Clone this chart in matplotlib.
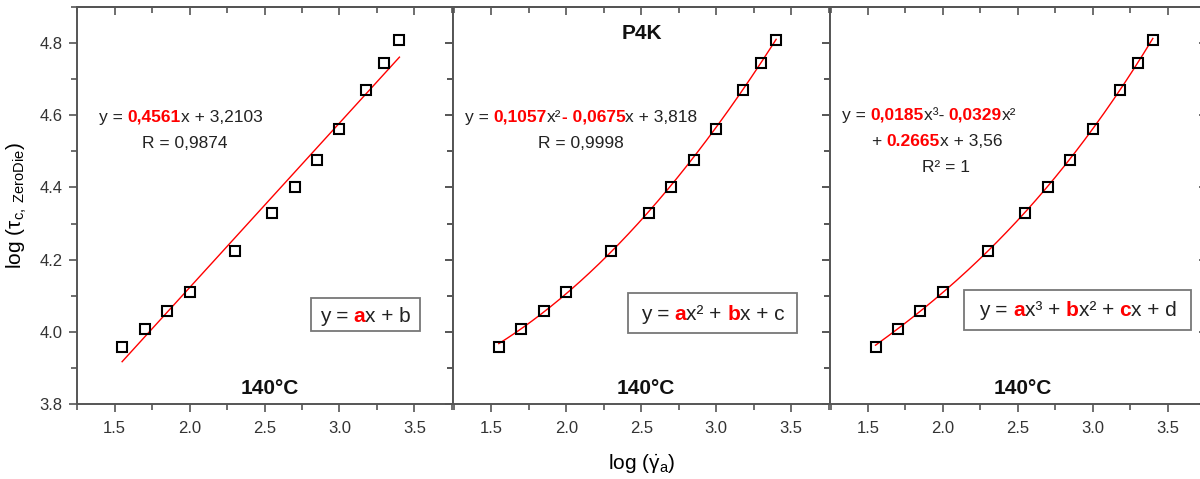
import numpy as np
import matplotlib
matplotlib.use('Agg')
import matplotlib.pyplot as plt
from matplotlib import transforms
from matplotlib.patches import Rectangle
from matplotlib.ticker import MultipleLocator

plt.rcParams['font.family'] = ['Liberation Sans', 'DejaVu Sans']
plt.rcParams['mathtext.fontset'] = 'custom'
plt.rcParams['mathtext.rm'] = 'Liberation Sans'
plt.rcParams['mathtext.it'] = 'Liberation Sans:italic'

# データ (log shear rate vs log tau)
x_log_rate = [1.55, 1.70, 1.85, 2.00, 2.30, 2.55, 2.70, 2.85, 3.00, 3.18, 3.30, 3.40]
y_log_tau = [3.959, 4.007, 4.058, 4.109, 4.223, 4.328, 4.402, 4.477, 4.561, 4.671, 4.745, 4.809]

# フィット係数
lin_coef = [0.4561, 3.2103]
quad_coef = [0.1057, -0.0675, 3.818]
cubic_coef = [0.0185, -0.0329, 0.2665, 3.56]
fit_range = [1.55, 3.40]

temp_label = '140°C'
sample_name = 'P4K'

RED = '#ff0000'
BLK = '#222222'
GRAY = '#555555'

eq_lines = [
    [[('y = ', BLK, False), ('0,4561', RED, True), ('x + 3,2103', BLK, False)],
     [('R = 0,9874', BLK, False)]],
    [[('y = ', BLK, False), ('0,1057', RED, True), ('x²', BLK, False), ('- 0,0675', RED, True),
      ('x + 3,818', BLK, False)],
     [('R = 0,9998', BLK, False)]],
    [[('y = ', BLK, False), ('0,0185', RED, True), ('x³- ', BLK, False), ('0,0329', RED, True),
      ('x²', BLK, False)],
     [('+ ', BLK, False), ('0.2665', RED, True), ('x + 3,56', BLK, False)],
     [('R² = 1', BLK, False)]],
]
model_lines = [
    [('y = ', BLK, False), ('a', RED, True), ('x + b', BLK, False)],
    [('y = ', BLK, False), ('a', RED, True), ('x² + ', BLK, False), ('b', RED, True), ('x + c', BLK, False)],
    [('y = ', BLK, False), ('a', RED, True), ('x³ + ', BLK, False), ('b', RED, True), ('x² + ', BLK, False),
     ('c', RED, True), ('x + d', BLK, False)],
]
coefs = [lin_coef, quad_coef, cubic_coef]

# レイアウト
eq_pos = [
    [(1.94, 4.582), (1.97, 4.508)],
    [(2.10, 4.582), (2.10, 4.509)],
    [(1.907, 4.587), (1.96, 4.516), (2.02, 4.443)],
]
box_pos = [(3.173, 4.027), (2.977, 4.034), (2.90, 4.045)]
box_pad = [(9, 24, 9), (12.5, 27, 13), (14.5, 26, 14)]

fig = plt.figure(figsize=(12, 4.79), dpi=100)
renderer = fig.canvas.get_renderer()


def text_width(s, size, weight):
    t1 = fig.text(0, 0, '|' + s + '|', fontsize=size, fontweight=weight)
    t2 = fig.text(0, 0, '||', fontsize=size, fontweight=weight)
    w = t1.get_window_extent(renderer).width - t2.get_window_extent(renderer).width
    t1.remove()
    t2.remove()
    return w


def color_text(ax, x, y, parts, size):
    widths = [text_width(s, size, 'bold' if b else 'normal') for s, c, b in parts]
    total = sum(widths)
    dx = -total / 2
    for (s, c, b), w in zip(parts, widths):
        tr = transforms.offset_copy(ax.transData, fig=fig, x=dx, y=0, units='dots')
        ax.text(x, y, s, transform=tr, ha='left', va='baseline', fontsize=size,
                color=c, fontweight='bold' if b else 'normal', zorder=6)
        dx += w
    return total


x0, w0 = 76.7 / 1200, 376.7 / 1200
b0, h0 = 75 / 479, 397 / 479
axes = []
for i in range(3):
    ax = fig.add_axes([x0 + i * w0, b0, w0, h0])
    axes.append(ax)
    ax.set_xlim(1.247, 3.76)
    ax.set_ylim(3.8, 4.9)

    xf = np.linspace(fit_range[0], fit_range[1], 200)
    ax.plot(xf, np.polyval(coefs[i], xf), color=RED, lw=1.0, zorder=3)
    ax.plot(x_log_rate, y_log_tau, 's', ms=6.5, mfc='none', mec='black', mew=1.5, zorder=4)

    for sp in ax.spines.values():
        sp.set_color(GRAY)
        sp.set_linewidth(1.4)
    ax.xaxis.set_major_locator(MultipleLocator(0.5))
    ax.xaxis.set_minor_locator(MultipleLocator(0.25))
    ax.yaxis.set_major_locator(MultipleLocator(0.2))
    ax.yaxis.set_minor_locator(MultipleLocator(0.1))
    ax.tick_params(which='both', direction='out', color=GRAY, width=1.2, labelcolor='#333333',
                   labelsize=12)
    ax.tick_params(axis='x', pad=6)
    ax.tick_params(axis='y', pad=4)
    ax.tick_params(which='major', length=6)
    ax.tick_params(which='minor', length=4)
    if i > 0:
        ax.tick_params(axis='y', labelleft=False)

    # 上と右は内向き
    sx = ax.secondary_xaxis('top')
    sx.xaxis.set_major_locator(MultipleLocator(0.5))
    sx.xaxis.set_minor_locator(MultipleLocator(0.25))
    sx.tick_params(which='both', direction='in', color=GRAY, width=1.2, labeltop=False)
    sx.tick_params(which='major', length=6)
    sx.tick_params(which='minor', length=4)
    sx.spines['top'].set_color(GRAY)
    sx.spines['top'].set_linewidth(1.4)
    sy = ax.secondary_yaxis('right')
    sy.yaxis.set_major_locator(MultipleLocator(0.2))
    sy.yaxis.set_minor_locator(MultipleLocator(0.1))
    sy.tick_params(which='both', direction='in', color=GRAY, width=1.2, labelright=False)
    sy.tick_params(which='major', length=6)
    sy.tick_params(which='minor', length=4)
    sy.spines['right'].set_color(GRAY)
    sy.spines['right'].set_linewidth(1.4)

    ax.text(0.512, 0.038, temp_label, transform=ax.transAxes, ha='center', va='center',
            fontsize=15, fontweight='bold', color='#111111')

    for parts, (px, py) in zip(eq_lines[i], eq_pos[i]):
        color_text(ax, px, py, parts, 12.5)

    bx, by = box_pos[i]
    total = color_text(ax, bx, by, model_lines[i], 15)
    padx, up, down = box_pad[i]
    cx, cy = ax.transData.transform((bx, by))
    inv = ax.transAxes.inverted()
    (l, b) = inv.transform((cx - total / 2 - padx, cy - down))
    (r, t) = inv.transform((cx + total / 2 + padx, cy + up))
    ax.add_patch(Rectangle((l, b), r - l, t - b, transform=ax.transAxes, facecolor='white',
                           edgecolor='#777777', lw=1.3, zorder=5))

axes[1].text(0.5, 0.932, sample_name, transform=axes[1].transAxes, ha='center', va='center',
             fontsize=15, fontweight='bold', color='#111111')
axes[0].set_ylabel(r'log ($\mathrm{τ}_{\mathrm{c,\ ZeroDie}}$)', fontsize=15, labelpad=8)
axes[1].set_xlabel(r'log ($\dot{\mathrm{γ}}_{\mathrm{a}}$)', fontsize=15, labelpad=12)

fig.savefig('out.png', dpi=100)
